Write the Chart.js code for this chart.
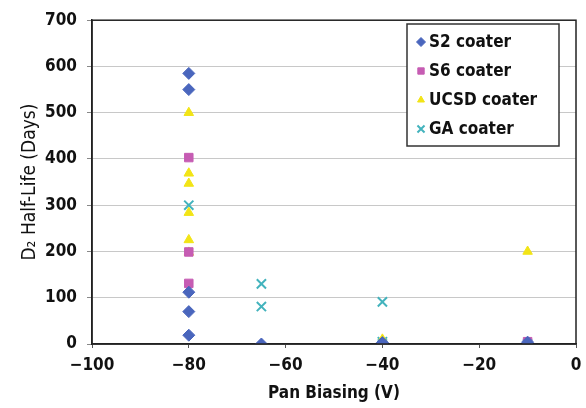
<!DOCTYPE html>
<html>
<head>
<meta charset="utf-8">
<script src="https://cdn.jsdelivr.net/npm/chart.js@4/dist/chart.umd.min.js"></script>
<style>
  html, body { margin: 0; padding: 0; background: #fff; }
  #wrap { width: 586px; height: 408px; }
</style>
</head>
<body>
<div id="wrap"><canvas id="chart" width="586" height="408"></canvas></div>
<script>
// values: [pan bias (V), half-life (days)]
const s2Coater   = [[-80, 585], [-80, 550], [-80, 112], [-80, 70], [-80, 19], [-65, 0], [-40, 3], [-10, 4]];
const s6Coater   = [[-80, 403], [-80, 199], [-80, 131], [-10, 5]];
const ucsdCoater = [[-80, 500], [-80, 369], [-80, 347], [-80, 284], [-80, 225], [-80, 198], [-40, 10], [-10, 200], [-10, 0]];
const gaCoater   = [[-80, 300], [-65, 130], [-65, 81], [-40, 91], [-40, 5], [-40, 0], [-10, 0]];

const xTicks = [-100, -80, -60, -40, -20, 0];
const yTicks = [0, 100, 200, 300, 400, 500, 600, 700];

const FONT = '"Liberation Sans Narrow", "DejaVu Sans Condensed", "Liberation Sans", Arial, sans-serif';
const toPts = arr => arr.map(([x, y]) => ({ x, y }));

const series = [
  { label: 'S2 coater',   data: s2Coater,   style: 'rectRot',  color: '#4a66bd', radius: 6,   bw: 1 },
  { label: 'S6 coater',   data: s6Coater,   style: 'rect',     color: '#c65cb3', radius: 6,   bw: 1 },
  { label: 'UCSD coater', data: ucsdCoater, style: 'triangle', color: '#f2e416', radius: 5.5, bw: 1 },
  { label: 'GA coater',   data: gaCoater,   style: 'crossRot', color: '#43b3bd', radius: 6.5, bw: 2 }
];

// box around the plot + legend drawn inside the plot area
const framePlugin = {
  id: 'frame',
  afterDraw(chart) {
    const { ctx, chartArea: a } = chart;
    ctx.save();
    ctx.strokeStyle = '#222';
    ctx.lineWidth = 1.5;
    ctx.strokeRect(a.left, a.top, a.right - a.left, a.bottom - a.top);

    const bx = 407, by = 24, bw = 152, bh = 122;
    ctx.fillStyle = '#fff';
    ctx.fillRect(bx, by, bw, bh);
    ctx.strokeStyle = '#333';
    ctx.lineWidth = 1.5;
    ctx.strokeRect(bx, by, bw, bh);
    ctx.font = 'bold 17px ' + FONT;
    ctx.textBaseline = 'middle';
    series.forEach((s, i) => {
      const cy = by + 18 + i * 29;
      ctx.fillStyle = s.color;
      ctx.strokeStyle = s.color;
      ctx.lineWidth = s.bw;
      Chart.helpers.drawPoint(ctx, { pointStyle: s.style, radius: s.radius - 1.5, rotation: 0, borderWidth: s.bw }, bx + 14, cy);
      ctx.fillStyle = '#111';
      ctx.fillText(s.label, bx + 22, cy + 1);
    });
    ctx.restore();
  }
};

new Chart(document.getElementById('chart'), {
  type: 'scatter',
  data: {
    datasets: series.map(s => ({
      label: s.label,
      data: toPts(s.data),
      pointStyle: s.style,
      pointRadius: s.radius,
      backgroundColor: s.color,
      borderColor: s.color,
      borderWidth: s.bw
    }))
  },
  options: {
    responsive: false,
    animation: false,
    layout: { padding: { left: 19, right: 10, top: 20, bottom: 4 } },
    plugins: {
      legend: { display: false },
      tooltip: { enabled: false }
    },
    scales: {
      x: {
        type: 'linear',
        min: -100, max: 0,
        afterBuildTicks: sc => { sc.ticks = xTicks.map(v => ({ value: v })); },
        ticks: {
          color: '#111',
          font: { family: FONT, size: 17, weight: 'bold' },
          padding: 7,
          maxRotation: 0,
          callback: v => String(v).replace('-', '\u2212')
        },
        grid: { color: 'transparent', tickColor: '#555', tickLength: 4, drawOnChartArea: false },
        border: { color: '#222', width: 1.5 },
        title: {
          display: true, text: 'Pan Biasing (V)', color: '#111',
          font: { family: FONT, size: 17, weight: 'bold' }, padding: { top: 3, bottom: 0 }
        },
        afterFit: sc => { sc.height = 60; sc.paddingRight = 0; sc.paddingLeft = 0; }
      },
      y: {
        type: 'linear',
        min: 0, max: 700,
        afterBuildTicks: sc => { sc.ticks = yTicks.map(v => ({ value: v })); },
        ticks: {
          color: '#111',
          font: { family: FONT, size: 17, weight: 'bold' },
          padding: 10
        },
        grid: { color: '#c8c8c8', lineWidth: 1, tickColor: '#888', tickLength: 5 },
        border: { color: '#222', width: 1.5 },
        title: {
          display: true, text: 'D\u2082 Half-Life (Days)', color: '#111',
          font: { family: FONT, size: 19 }, padding: { top: 0, bottom: 4 }
        },
        afterFit: sc => { sc.width = 73; }
      }
    }
  },
  plugins: [framePlugin]
});
</script>
</body>
</html>
